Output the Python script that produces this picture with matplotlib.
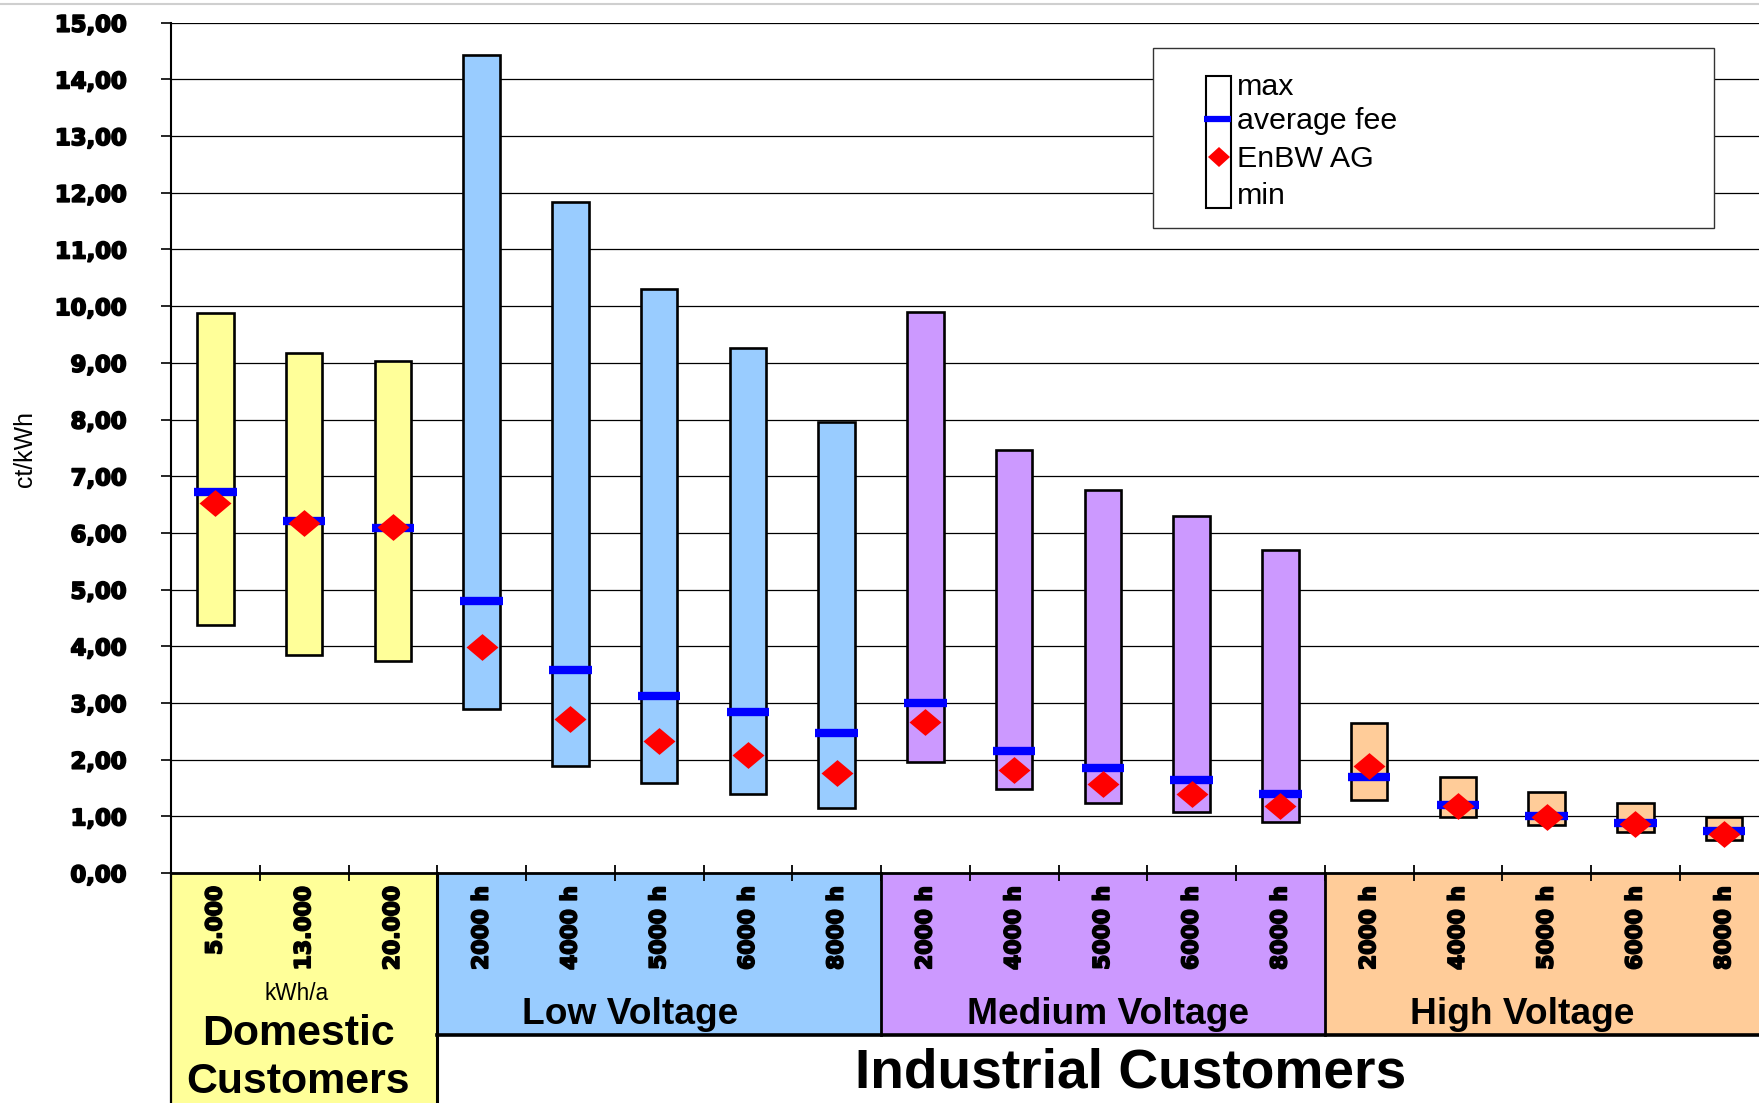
import numpy as np
import matplotlib
matplotlib.use('Agg')
import matplotlib.pyplot as plt
import matplotlib.patheffects as pe
from matplotlib import font_manager as fm
from matplotlib.patches import Rectangle, Polygon
from matplotlib.transforms import blended_transform_factory

# ---------------- data ----------------
categories = ['5.000', '13.000', '20.000',
              '2000 h', '4000 h', '5000 h', '6000 h', '8000 h',
              '2000 h', '4000 h', '5000 h', '6000 h', '8000 h',
              '2000 h', '4000 h', '5000 h', '6000 h', '8000 h']
group_of = [0, 0, 0, 1, 1, 1, 1, 1, 2, 2, 2, 2, 2, 3, 3, 3, 3, 3]
group_names = ['Domestic', 'Low Voltage', 'Medium Voltage', 'High Voltage']
group_colors = ['#FFFF99', '#99CCFF', '#CC99FF', '#FFCC99']

max_fee = [9.88, 9.17, 9.03, 14.43, 11.84, 10.30, 9.26, 7.96,
           9.89, 7.46, 6.76, 6.29, 5.70, 2.64, 1.70, 1.43, 1.23, 0.99]
min_fee = [4.38, 3.84, 3.74, 2.89, 1.88, 1.59, 1.40, 1.14,
           1.96, 1.48, 1.24, 1.08, 0.90, 1.29, 0.98, 0.84, 0.72, 0.58]
avg_fee = [6.72, 6.21, 6.09, 4.80, 3.58, 3.13, 2.84, 2.47,
           3.00, 2.15, 1.85, 1.64, 1.39, 1.69, 1.20, 1.01, 0.89, 0.74]
enbw_fee = [6.52, 6.18, 6.10, 3.99, 2.71, 2.33, 2.08, 1.77,
            2.67, 1.82, 1.57, 1.40, 1.19, 1.88, 1.19, 0.99, 0.86, 0.69]
yticks = list(range(0, 16))
ytick_labels = ['%d,00' % v for v in yticks]
legend_labels = ['max', 'average fee', 'EnBW AG', 'min']

# ---------------- figure ----------------
W, H, DPI = 1759, 1103, 100
fig = plt.figure(figsize=(W / DPI, H / DPI), dpi=DPI)
renderer = fig.canvas.get_renderer()


def has_font(name):
    try:
        fm.findfont(fm.FontProperties(family=name), fallback_to_default=False)
        return True
    except Exception:
        return False


NARROW = 'Liberation Sans Narrow' if has_font('Liberation Sans Narrow') else 'Liberation Sans'
REG = 'Liberation Sans'
HEAVY = 'DejaVu Sans'
THICK = [pe.withStroke(linewidth=1.3, foreground='black')]


def fit_size(s, target, **kw):
    t = fig.text(0, 0, s, fontsize=20, **kw)
    w = t.get_window_extent(renderer).width
    t.remove()
    return 20.0 * target / w


AX_L, AX_R, Y0, Y15 = 171, 1768.5, 873, 22.7

# background axes (pixel coordinates) for the category boxes
pb = fig.add_axes([0, 0, 1, 1], zorder=0)
pb.set_xlim(0, W)
pb.set_ylim(H, 0)
pb.axis('off')

ax = fig.add_axes([AX_L / W, 1 - Y0 / H, (AX_R - AX_L) / W, (Y0 - Y15) / H], zorder=2)
ax.patch.set_alpha(0)

ov = fig.add_axes([0, 0, 1, 1], zorder=3)
ov.set_xlim(0, W)
ov.set_ylim(H, 0)
ov.axis('off')
ov.patch.set_alpha(0)

x = np.arange(len(categories))
mx = np.array(max_fee)
mn = np.array(min_fee)

ax.bar(x, mx - mn, bottom=mn, width=0.41,
       color=[group_colors[g] for g in group_of],
       edgecolor='black', linewidth=1.9, zorder=3)
ax.hlines(avg_fee, x - 0.24, x + 0.24, colors='#0000FF', linewidth=6, zorder=4)
dverts = [(-1, 0), (0, 0.84), (1, 0), (0, -0.84), (-1, 0)]
ax.scatter(x, enbw_fee, marker=dverts, s=23 ** 2, c='#FF0000', linewidths=0, zorder=5)

ax.set_xlim(-0.5, len(categories) - 0.5)
ax.set_ylim(0, 15)
ax.yaxis.grid(True, color='black', linewidth=0.9)
ax.set_axisbelow(True)
for s in ['top', 'right']:
    ax.spines[s].set_visible(False)
ax.spines['left'].set_linewidth(1.5)
ax.spines['bottom'].set_linewidth(2.0)

ysize = fit_size('15,00', 72, family=HEAVY, fontweight='bold')
ax.set_yticks(yticks)
ax.set_yticklabels(ytick_labels, fontsize=ysize, fontweight='bold', family=HEAVY)
for t in ax.get_yticklabels():
    t.set_path_effects(THICK)
ax.tick_params(axis='y', length=7, width=1.2, pad=25)

xsize = fit_size('2000 h', 84, family=HEAVY, fontweight='bold')
ax.set_xticks(x)
ax.set_xticklabels(categories, rotation=90, fontsize=xsize, fontweight='bold', family=HEAVY)
for t in ax.get_xticklabels():
    t.set_path_effects(THICK)
ax.tick_params(axis='x', which='major', length=0, pad=9.4)
ax.set_xticks(np.arange(0.5, len(categories) - 0.5, 1), minor=True)
ax.tick_params(axis='x', which='minor', direction='inout', length=12, width=1.3, color='black')

# ---------------- category boxes below axis ----------------
trans = blended_transform_factory(ax.transData, pb.transData)
BOX_B = 1035
starts = [-0.5, 2.5, 7.5, 12.5]
widths = [3, 5, 5, 5]
for g in range(4):
    bottom = H + 5 if g == 0 else BOX_B
    pb.add_patch(Rectangle((starts[g], Y0), widths[g] + (0.3 if g == 3 else 0), bottom - Y0,
                           transform=trans, facecolor=group_colors[g], edgecolor='none'))
pb.plot([-0.5, -0.5], [Y0, H], transform=trans, color='black', lw=1.6)
pb.plot([2.5, 2.5], [Y0, H], transform=trans, color='black', lw=2.2)
for xb in [7.5, 12.5]:
    pb.plot([xb, xb], [Y0, BOX_B], transform=trans, color='black', lw=2.0)
pb.plot([2.5, 18.0], [BOX_B, BOX_B], transform=trans, color='black', lw=2.6)

ksize = fit_size('kWh/a', 64, family=NARROW)
pb.text(297, 993, 'kWh/a', family=NARROW, fontsize=ksize, ha='center', va='center')
dsize = fit_size('Domestic', 193, family=NARROW, fontweight='bold')
pb.text(298, 1034, 'Domestic', family=NARROW, fontweight='bold', fontsize=dsize, ha='center', va='center')
pb.text(298, 1082, 'Customers', family=NARROW, fontweight='bold', fontsize=dsize, ha='center', va='center')
gsize = fit_size('Medium Voltage', 282, family=NARROW, fontweight='bold')
for name, gx in zip(group_names[1:], [630, 1108, 1522]):
    pb.text(gx, 1014, name, family=NARROW, fontweight='bold', fontsize=gsize, ha='center', va='center')
isize = fit_size('Industrial Customers', 551, family=NARROW, fontweight='bold')
pb.text(1131, 1073, 'Industrial Customers', family=NARROW, fontweight='bold', fontsize=isize,
        ha='center', va='center')

# y label
csize = fit_size('ct/kWh', 76, family=NARROW)
ov.text(25, 449, 'ct/kWh', family=NARROW, fontsize=csize, rotation=90, ha='center', va='center')

# top grey rule
ov.plot([0, W], [4, 4], color='#cfcfcf', lw=1.5)

# ---------------- legend ----------------
ov.add_patch(Rectangle((1153, 48), 561, 180, facecolor='white', edgecolor='#333333', lw=1.0))
ov.add_patch(Rectangle((1206, 76), 25, 132, facecolor='white', edgecolor='black', lw=1.5))
ov.plot([1204, 1231], [119, 119], color='#0000FF', lw=4.5, solid_capstyle='butt')
ov.add_patch(Polygon([(1208, 157), (1219, 147), (1230, 157), (1219, 167)], closed=True,
                     facecolor='#FF0000', edgecolor='none'))
lsize = fit_size('average fee', 160, family=REG)
for lab, ly in zip(legend_labels, [87, 121, 159, 196]):
    ov.text(1237, ly, lab, family=REG, fontsize=lsize, ha='left', va='center')

fig.savefig('out.png', dpi=DPI)
